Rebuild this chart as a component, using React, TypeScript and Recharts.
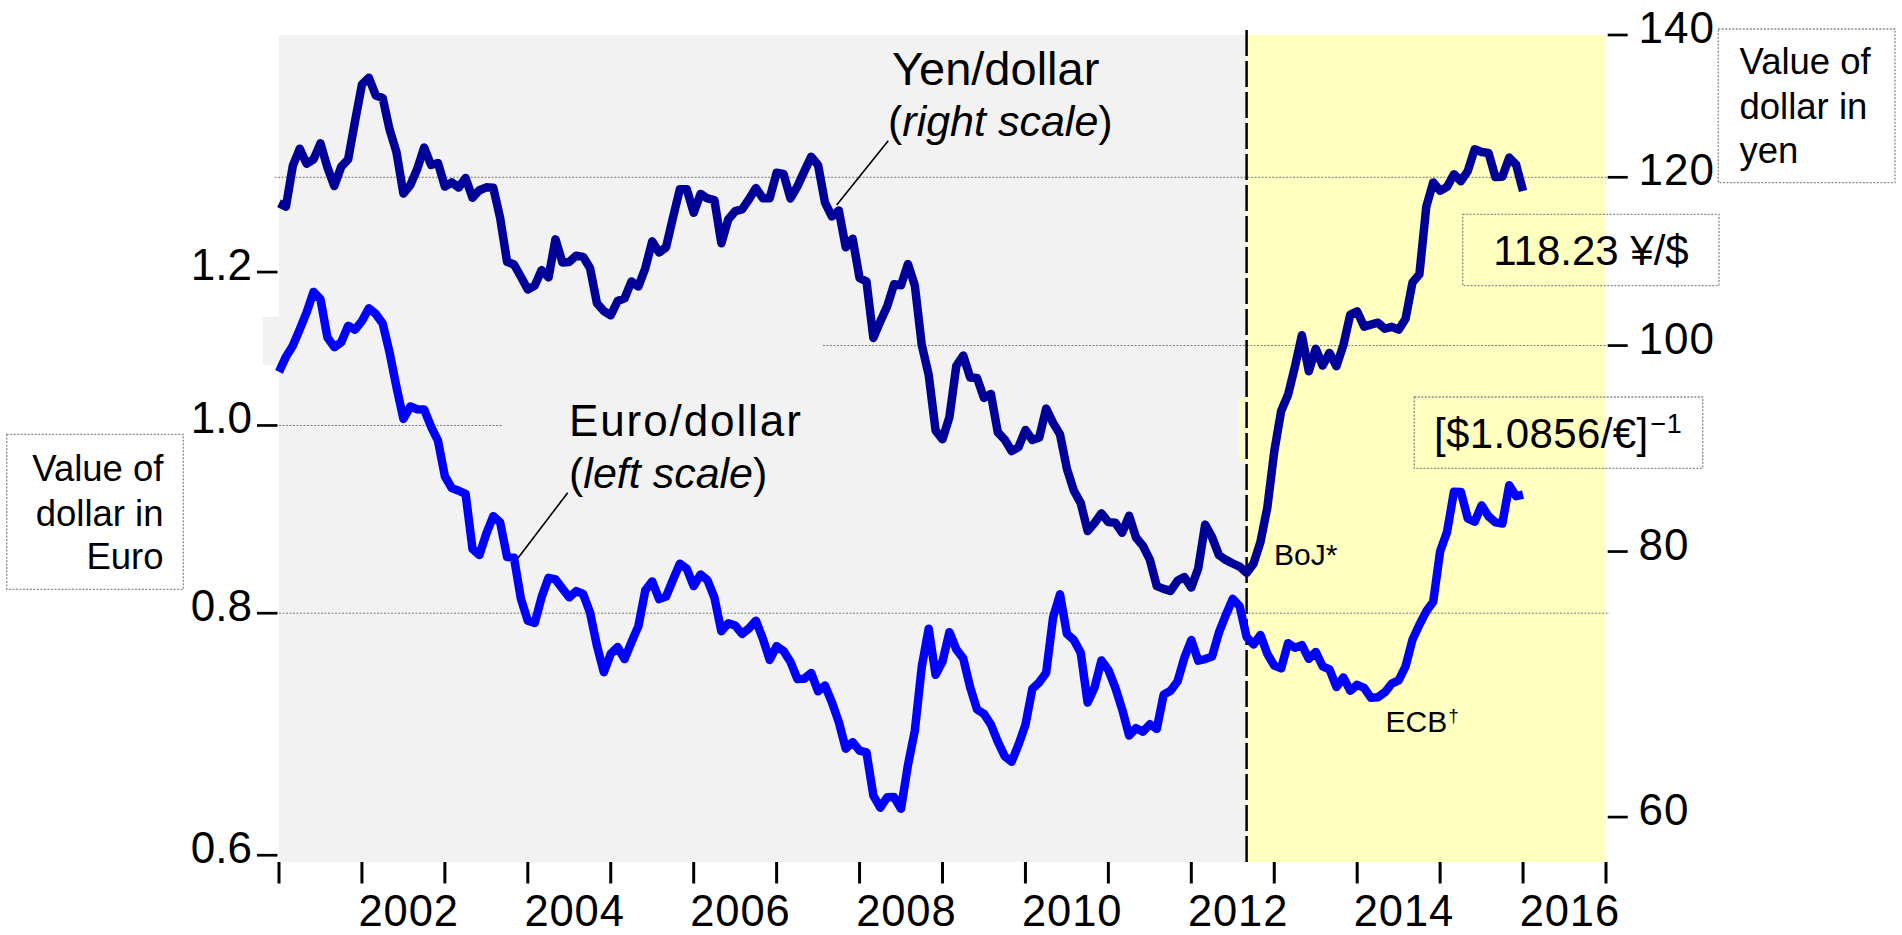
import React from "react";
import {
  ComposedChart,
  Line,
  XAxis,
  YAxis,
  ReferenceArea,
  ReferenceLine,
} from "recharts";

// ---------------- data ----------------
const FIRST_YEAR = 2001;

// Monthly average value of the dollar in yen, Jan 2001 .. Jan 2016
const YEN_PER_DOLLAR: number[] = [
  // 2001
  116.67, 116.24, 121.51, 123.77, 121.77, 122.35, 124.5, 121.3, 118.86, 121.38, 122.35, 127.52,
  // 2002
  132.69, 133.66, 131.13, 130.77, 126.37, 123.29, 117.89, 118.99, 121.08, 123.92, 121.61, 121.87,
  // 2003
  118.8, 119.34, 118.67, 119.9, 117.37, 118.33, 118.7, 118.66, 114.8, 109.5, 109.18, 107.74,
  // 2004
  106.27, 106.71, 108.52, 107.66, 112.2, 109.43, 109.49, 110.23, 110.09, 108.78, 104.7, 103.81,
  // 2005
  103.34, 104.94, 105.25, 107.19, 106.6, 108.75, 111.95, 110.61, 111.24, 114.87, 118.45, 118.46,
  // 2006
  115.48, 117.86, 117.28, 117.07, 111.73, 114.63, 115.67, 115.91, 117.18, 118.61, 117.32, 117.32,
  // 2007
  120.59, 120.45, 117.28, 118.81, 120.77, 122.69, 121.59, 116.74, 115.01, 115.77, 111.24, 112.28,
  // 2008
  107.6, 107.18, 100.83, 102.65, 104.36, 106.86, 106.76, 109.24, 106.71, 100.06, 96.89, 91.21,
  // 2009
  90.35, 92.54, 97.83, 98.92, 96.61, 96.54, 94.49, 94.9, 91.04, 90.32, 89.21, 89.58,
  // 2010
  91.26, 90.28, 90.52, 93.4, 91.97, 90.83, 87.51, 85.47, 84.31, 81.8, 82.52, 83.38,
  // 2011
  82.59, 82.53, 81.65, 83.16, 81.23, 80.49, 79.3, 77.06, 76.83, 76.66, 77.5, 77.82,
  // 2012
  76.94, 78.55, 82.37, 81.26, 79.69, 79.28, 78.97, 78.7, 78.17, 78.96, 80.82, 83.91,
  // 2013
  89.16, 93.16, 94.81, 97.77, 101.13, 97.26, 99.66, 97.86, 99.21, 97.79, 100.04, 103.42,
  // 2014
  103.76, 102.08, 102.29, 102.51, 101.84, 102.05, 101.74, 102.95, 107.08, 108.03, 116.24, 119.33,
  // 2015
  118.27, 118.76, 120.39, 119.5, 120.81, 123.69, 123.34, 123.21, 120.04, 120.07, 122.59, 121.64,
  // 2016
  118.23,
];

// Monthly average dollars per euro (the chart plots its inverse: [$/€]^-1)
const DOLLARS_PER_EURO: number[] = [
  // 2001
  0.9383, 0.9217, 0.9095, 0.892, 0.8742, 0.8532, 0.8607, 0.9005, 0.9111, 0.9059, 0.8883, 0.8924,
  // 2002
  0.8833, 0.87, 0.8758, 0.8858, 0.917, 0.9554, 0.9922, 0.9778, 0.9808, 0.9811, 1.0014, 1.0183,
  // 2003
  1.0622, 1.0773, 1.0807, 1.0848, 1.1582, 1.1663, 1.1372, 1.1139, 1.1222, 1.1692, 1.1702, 1.2286,
  // 2004
  1.2613, 1.2646, 1.2262, 1.1985, 1.2007, 1.2138, 1.2266, 1.2176, 1.2218, 1.249, 1.2991, 1.3408,
  // 2005
  1.3119, 1.3014, 1.3201, 1.2938, 1.2694, 1.2165, 1.2037, 1.2292, 1.2256, 1.2015, 1.1786, 1.1856,
  // 2006
  1.2103, 1.1938, 1.202, 1.2271, 1.277, 1.265, 1.2684, 1.2811, 1.2727, 1.2611, 1.2881, 1.3213,
  // 2007
  1.2999, 1.3074, 1.3242, 1.3516, 1.3511, 1.3419, 1.3716, 1.3622, 1.3896, 1.4227, 1.4684, 1.457,
  // 2008
  1.4718, 1.4748, 1.5527, 1.5751, 1.5557, 1.5553, 1.577, 1.4975, 1.437, 1.3322, 1.2732, 1.3449,
  // 2009
  1.3239, 1.2785, 1.305, 1.319, 1.365, 1.4016, 1.4088, 1.4268, 1.4562, 1.4816, 1.4914, 1.4614,
  // 2010
  1.4275, 1.3675, 1.357, 1.3417, 1.2563, 1.2223, 1.2811, 1.2903, 1.3103, 1.3901, 1.3654, 1.3221,
  // 2011
  1.3371, 1.3656, 1.4015, 1.4455, 1.4331, 1.4391, 1.4264, 1.4343, 1.377, 1.3706, 1.3556, 1.3179,
  // 2012
  1.2905, 1.3224, 1.3201, 1.3162, 1.2789, 1.2526, 1.2288, 1.24, 1.2856, 1.2974, 1.2828, 1.3119,
  // 2013
  1.3304, 1.3347, 1.2953, 1.3025, 1.2983, 1.3197, 1.3088, 1.3314, 1.3364, 1.3646, 1.3491, 1.3708,
  // 2014
  1.361, 1.3659, 1.3823, 1.3813, 1.3732, 1.3592, 1.3539, 1.3316, 1.2901, 1.2673, 1.2472, 1.2331,
  // 2015
  1.1615, 1.135, 1.0819, 1.0822, 1.1167, 1.1213, 1.0996, 1.1139, 1.1221, 1.1235, 1.0736, 1.0877,
  // 2016
  1.0856,
];

const YEN_TICKS = [60, 80, 100, 120, 140];
const EURO_TICKS = [0.6, 0.8, 1.0, 1.2];
const YEAR_BOUNDARIES = [
  2001, 2002, 2003, 2004, 2005, 2006, 2007, 2008, 2009, 2010, 2011, 2012, 2013, 2014, 2015, 2016, 2017,
];
const YEAR_LABELS = [2002, 2004, 2006, 2008, 2010, 2012, 2014, 2016];
const BOJ_DATE = 2012 + 8 / 12; // Sep 2012
const LAST_YEN_TEXT = "118.23 ¥/$";
const LAST_EURO_TEXT = "[$1.0856/€]";

const YEN_DOMAIN: [number, number] = [57.15, 140];
const EURO_DOMAIN: [number, number] = [0.5952, 1.5906];

const data = YEN_PER_DOLLAR.map((yen, i) => ({
  t: FIRST_YEAR + i / 12,
  yen,
  euro: 1 / DOLLARS_PER_EURO[i],
}));

const X_TICKS = [...YEAR_BOUNDARIES, ...YEAR_LABELS.map((y) => y + 0.5)].sort((a, b) => a - b);

// ---------------- style ----------------
const FONT = "'Liberation Sans', Arial, Helvetica, sans-serif";
const YEN_COLOR = "#000099";
const EURO_COLOR = "#0000FF";
const GRAY_BG = "#F2F2F2";
const YELLOW_BG = "#FFFFC0";
const GRID = { stroke: "#7a7a7a", strokeWidth: 1, strokeDasharray: "2 1.5" };
const LINE_WIDTH = 8.5;

// ---------------- ticks ----------------
const LeftTick = (props: any) => {
  const { x, y, payload } = props;
  return (
    <g>
      <line x1={x - 22} x2={x - 1.5} y1={y} y2={y} stroke="#000" strokeWidth={2.7} />
      <text x={x - 27} y={y + 8} textAnchor="end" fontSize={44} fontFamily={FONT} fill="#000">
        {Number(payload.value).toFixed(1)}
      </text>
    </g>
  );
};

const RightTick = (props: any) => {
  const { x, y, payload } = props;
  return (
    <g>
      <line x1={x + 1.7} x2={x + 21.7} y1={y} y2={y} stroke="#000" strokeWidth={2.7} />
      <text x={x + 32.5} y={y + 8} textAnchor="start" fontSize={44} letterSpacing={1} fontFamily={FONT} fill="#000">
        {payload.value}
      </text>
    </g>
  );
};

const BottomTick = (props: any) => {
  const { x, y, payload } = props;
  const v = Number(payload.value);
  if (Number.isInteger(v)) {
    return <line x1={x} x2={x} y1={y} y2={y + 21.5} stroke="#000" strokeWidth={3} />;
  }
  return (
    <text x={x + 5.3} y={y + 63.5} textAnchor="middle" fontSize={43.5} letterSpacing={0.9} fontFamily={FONT} fill="#000">
      {Math.floor(v)}
    </text>
  );
};

const boxStyle = { fill: "none", stroke: "#8a8a8a", strokeWidth: 1.3, strokeDasharray: "2 1.5" };

export default function App() {
  return (
    <div style={{ position: "absolute", left: 0, top: 0, width: 1902, height: 935, background: "#fff" }}>
      <ComposedChart width={1902} height={935} data={data} margin={{ top: 35, right: 0, bottom: 0, left: 0 }}>
        <XAxis
          dataKey="t"
          type="number"
          domain={[2001, 2017]}
          ticks={X_TICKS}
          interval={0}
          height={73}
          axisLine={false}
          tickLine={false}
          tickSize={0}
          tickMargin={0}
          tick={<BottomTick />}
        />
        <YAxis
          yAxisId="L"
          orientation="left"
          type="number"
          scale="log"
          domain={EURO_DOMAIN}
          ticks={EURO_TICKS}
          interval={0}
          width={279}
          axisLine={false}
          tickLine={false}
          tickSize={0}
          tickMargin={0}
          tick={<LeftTick />}
        />
        <YAxis
          yAxisId="R"
          orientation="right"
          type="number"
          scale="log"
          domain={YEN_DOMAIN}
          ticks={YEN_TICKS}
          interval={0}
          width={296}
          axisLine={false}
          tickLine={false}
          tickSize={0}
          tickMargin={0}
          tick={<RightTick />}
        />

        {/* background panels */}
        <ReferenceArea yAxisId="L" x1={2001} x2={BOJ_DATE} fill={GRAY_BG} fillOpacity={1} stroke="none" />
        <ReferenceArea yAxisId="L" x1={BOJ_DATE} x2={2017} fill={YELLOW_BG} fillOpacity={1} stroke="none" />
        <ReferenceArea
          yAxisId="L"
          x1={2000.807}
          x2={2001}
          y1={1.0746}
          y2={1.1378}
          fill={GRAY_BG}
          fillOpacity={1}
          stroke="none"
          ifOverflow="visible"
        />
        <ReferenceArea
          yAxisId="R"
          x1={2012.578}
          x2={BOJ_DATE}
          y1={88.27}
          y2={94.54}
          fill={YELLOW_BG}
          fillOpacity={1}
          stroke="none"
          ifOverflow="visible"
        />

        {/* dotted guide lines */}
        <ReferenceLine
          yAxisId="R"
          segment={[{ x: 2000.947, y: 120 }, { x: 2017.01, y: 120 }]}
          ifOverflow="visible"
          {...GRID}
        />
        <ReferenceLine
          yAxisId="R"
          segment={[{ x: 2007.559, y: 100 }, { x: 2017.01, y: 100 }]}
          ifOverflow="visible"
          {...GRID}
        />
        <ReferenceLine
          yAxisId="L"
          segment={[{ x: 2001, y: 1.0 }, { x: 2003.697, y: 1.0 }]}
          ifOverflow="visible"
          {...GRID}
        />
        <ReferenceLine
          yAxisId="L"
          segment={[{ x: 2001, y: 0.8 }, { x: 2017.044, y: 0.8 }]}
          ifOverflow="visible"
          {...GRID}
        />

        {/* BoJ dashed vertical line */}
        <ReferenceLine
          yAxisId="R"
          segment={[{ x: BOJ_DATE, y: YEN_DOMAIN[0] }, { x: BOJ_DATE, y: 140.76 }]}
          ifOverflow="visible"
          stroke="#000"
          strokeWidth={2.5}
          strokeDasharray="26 5"
        />

        <Line
          yAxisId="R"
          dataKey="yen"
          stroke={YEN_COLOR}
          strokeWidth={LINE_WIDTH}
          strokeLinejoin="round"
          dot={false}
          activeDot={false}
          isAnimationActive={false}
        />
        <Line
          yAxisId="L"
          dataKey="euro"
          stroke={EURO_COLOR}
          strokeWidth={LINE_WIDTH}
          strokeLinejoin="round"
          dot={false}
          activeDot={false}
          isAnimationActive={false}
        />

        {/* leader lines for series labels */}
        <ReferenceLine
          yAxisId="R"
          segment={[{ x: 2007.724, y: 116.45 }, { x: 2008.346, y: 124.86 }]}
          ifOverflow="visible"
          stroke="#000"
          strokeWidth={1.6}
        />
        <ReferenceLine
          yAxisId="L"
          segment={[{ x: 2003.88, y: 0.8539 }, { x: 2004.481, y: 0.9232 }]}
          ifOverflow="visible"
          stroke="#000"
          strokeWidth={1.6}
        />
      </ComposedChart>

      <svg
        width={1902}
        height={935}
        style={{ position: "absolute", left: 0, top: 0, pointerEvents: "none" }}
        fontFamily={FONT}
        fill="#000"
      >
        <text x={892} y={85} fontSize={47}>Yen/dollar</text>
        <text x={888} y={136} fontSize={43}>
          (<tspan fontStyle="italic">right scale</tspan>)
        </text>
        <text x={569} y={436} fontSize={44} letterSpacing={1.9}>Euro/dollar</text>
        <text x={569} y={488} fontSize={43}>
          (<tspan fontStyle="italic">left scale</tspan>)
        </text>
        <text x={1274} y={565} fontSize={30}>BoJ*</text>
        <text x={1385.5} y={731.7} fontSize={30}>
          ECB<tspan fontSize={19} dx={1} dy={-9.5}>†</tspan>
        </text>

        {/* left scale caption */}
        <rect x={6.7} y={434.3} width={176.6} height={155} {...boxStyle} />
        <text x={163.5} y={480.7} fontSize={36.5} textAnchor="end">Value of</text>
        <text x={163.5} y={526} fontSize={36.5} textAnchor="end">dollar in</text>
        <text x={163.5} y={569.3} fontSize={36.5} textAnchor="end">Euro</text>

        {/* right scale caption */}
        <rect x={1718.3} y={29} width={176.7} height={153.7} {...boxStyle} />
        <text x={1739.5} y={74} fontSize={36.5}>Value of</text>
        <text x={1739.5} y={119.3} fontSize={36.5}>dollar in</text>
        <text x={1739.5} y={163.3} fontSize={36.5}>yen</text>

        {/* latest values */}
        <rect x={1462.7} y={214.3} width={256.3} height={71.4} {...boxStyle} />
        <text x={1591} y={265} fontSize={42} textAnchor="middle">{LAST_YEN_TEXT}</text>

        <rect x={1414.3} y={397} width={288.4} height={71.3} {...boxStyle} />
        <text x={1434} y={448.3} fontSize={42} letterSpacing={0.4}>
          {LAST_EURO_TEXT}
          <tspan fontSize={27} dx={2} dy={-15}>−1</tspan>
        </text>
      </svg>
    </div>
  );
}
